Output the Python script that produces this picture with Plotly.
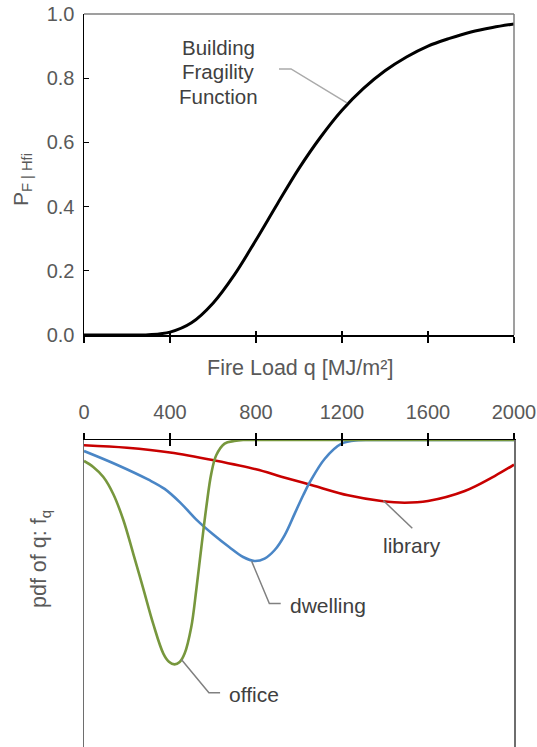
import plotly.graph_objects as go

# ---------------- data ----------------
# Fire load grid for the fragility function [MJ/m²]
q_frag = [0, 100, 200, 300, 400, 500, 600, 700, 800, 900, 1000,
          1100, 1200, 1300, 1400, 1500, 1600, 1700, 1800, 1900, 2000]
# Building fragility P_F|Hfi
p_frag = [0.0, 0.0, 0.0, 0.001, 0.009, 0.038, 0.099, 0.188, 0.296, 0.409, 0.519,
          0.616, 0.700, 0.768, 0.823, 0.866, 0.900, 0.924, 0.944, 0.958, 0.969]

# pdf of fire load (x 10^-3)
q_office = [0, 43, 90, 136, 183, 229, 276, 322, 369, 395, 421, 445, 468, 499, 522,
            546, 569, 592, 615, 654, 699, 740, 800, 1200, 1600, 2000]
f_office = [0.296, 0.381, 0.522, 0.761, 1.128, 1.602, 2.100, 2.594, 3.012, 3.127,
            3.165, 3.132, 3.012, 2.637, 2.119, 1.509, 0.945, 0.474, 0.216, 0.051,
            0.014, 0.0, 0.0, 0.0, 0.0, 0.0]

q_dwelling = [0, 150, 300, 375, 450, 525, 600, 675, 740, 793, 840, 886, 933,
              980, 1020, 1051, 1120, 1198, 1275, 1350, 1600, 2000]
f_dwelling = [0.155, 0.345, 0.560, 0.690, 0.890, 1.130, 1.330, 1.510, 1.650,
              1.706, 1.672, 1.555, 1.344, 1.038, 0.776, 0.592, 0.264, 0.052,
              0.004, 0.0, 0.0, 0.0]

q_library = [0, 200, 400, 608, 800, 918, 1073, 1228, 1383, 1491, 1600, 1771,
             1910, 2000]
f_library = [0.075, 0.110, 0.176, 0.289, 0.413, 0.517, 0.649, 0.780, 0.860,
             0.884, 0.860, 0.719, 0.508, 0.348]

x_ticks = [0, 400, 800, 1200, 1600, 2000]
y_ticks = [0.0, 0.2, 0.4, 0.6, 0.8, 1.0]

# --------------- styling ---------------
W, H = 537, 747
FONT = "Liberation Sans, Arial, sans-serif"
GRAY_TXT = "#595959"
LBL_TXT = "#404040"
C_OFFICE = "#77973d"
C_DWELL = "#4a86c6"
C_LIB = "#c80000"

xdom = [84 / W, 514 / W]
ydom_top = [1 - 335 / H, 1 - 14 / H]
ydom_bot = [0.0, 1 - 440 / H]
PDF_MAX = 4.33

fig = go.Figure()

fig.add_trace(go.Scatter(x=q_frag, y=p_frag, mode="lines",
                         line=dict(color="black", width=3, shape="spline", smoothing=1),
                         xaxis="x", yaxis="y", showlegend=False, hoverinfo="skip"))

for qv, fv, col in [(q_library, f_library, C_LIB), (q_dwelling, f_dwelling, C_DWELL),
                    (q_office, f_office, C_OFFICE)]:
    fig.add_trace(go.Scatter(x=qv, y=fv, mode="lines",
                             line=dict(color=col, width=2.6, shape="spline", smoothing=1),
                             xaxis="x2", yaxis="y2", showlegend=False, hoverinfo="skip"))

# empty traces to activate overlay tick axes
fig.add_trace(go.Scatter(x=[], y=[], xaxis="x3", yaxis="y", showlegend=False))
fig.add_trace(go.Scatter(x=[], y=[], xaxis="x4", yaxis="y2", showlegend=False))

tickfont = dict(family=FONT, size=20, color=GRAY_TXT)
common = dict(showgrid=False, zeroline=False, automargin=False)

fig.update_layout(
    template="none",
    width=W, height=H, margin=dict(l=0, r=0, t=0, b=0, pad=0, autoexpand=False),
    paper_bgcolor="white", plot_bgcolor="white",
    font=dict(family=FONT, color=GRAY_TXT),
    xaxis=dict(domain=xdom, anchor="y", range=[0, 2000], tickvals=x_ticks, showticklabels=False,
               ticks="outside", ticklen=6, tickwidth=1.3, tickcolor="black",
               showline=True, linecolor="black", linewidth=1.5, **common),
    yaxis=dict(domain=ydom_top, anchor="x", range=[0, 1], tickvals=y_ticks, tickformat=".1f",
               ticks="inside", ticklen=5, tickwidth=1.3, tickcolor="black", tickfont=tickfont,
               ticklabelstandoff=4,
               showline=True, linecolor="black", linewidth=1.5, **common),
    xaxis3=dict(domain=xdom, anchor="y", overlaying="x", range=[0, 2000], tickvals=x_ticks,
                showticklabels=False, ticks="inside", ticklen=4, tickwidth=1.3, tickcolor="black",
                showline=False, **common),
    xaxis2=dict(domain=xdom, anchor="y2", side="top", range=[0, 2000], tickvals=x_ticks,
                ticks="outside", ticklen=6, tickwidth=1.3, tickcolor="black", tickfont=tickfont,
                ticklabelstandoff=6,
                showline=True, linecolor="black", linewidth=1.5, **common),
    xaxis4=dict(domain=xdom, anchor="y2", overlaying="x2", side="top", range=[0, 2000],
                tickvals=x_ticks, showticklabels=False, ticks="inside", ticklen=6, tickwidth=1.3,
                tickcolor="black", showline=False, **common),
    yaxis2=dict(domain=ydom_bot, anchor="x2", range=[PDF_MAX, 0], showticklabels=False, ticks="",
                showline=True, mirror=True, linecolor="#6e6e6e", linewidth=1.5, **common),
    shapes=[
        dict(type="line", xref="x domain", yref="y domain", x0=0, x1=1, y0=1, y1=1,
             line=dict(color="#7f7f7f", width=1.5)),
        dict(type="line", xref="x domain", yref="y domain", x0=1, x1=1, y0=0, y1=1,
             line=dict(color="#7f7f7f", width=1.5)),
        # leader lines
        dict(type="path", xref="x", yref="y", path="M 907,0.829 L 963,0.829 L 1223,0.723",
             line=dict(color="#aaaaaa", width=1.5)),
        dict(type="path", xref="x2", yref="y2", path="M 453,3.096 L 581,3.566 L 633,3.566",
             line=dict(color="#808080", width=1.5)),
        dict(type="path", xref="x2", yref="y2", path="M 780,1.712 L 862,2.307 L 915,2.307",
             line=dict(color="#808080", width=1.5)),
        dict(type="path", xref="x2", yref="y2", path="M 1392,0.854 L 1527,1.244",
             line=dict(color="#808080", width=1.5)),
    ],
)

ann = []
# top-plot label (three lines)
for txt, ypx in [("Building", 47), ("Fragility", 72), ("Function", 96)]:
    ann.append(dict(text=txt, xref="paper", yref="paper", x=218 / W, y=1 - ypx / H,
                    showarrow=False, xanchor="center", yanchor="middle",
                    font=dict(family=FONT, size=20.5, color=LBL_TXT)))
# x title
ann.append(dict(text="Fire Load q [MJ/m²]", xref="paper", yref="paper", x=300 / W, y=1 - 368 / H,
                showarrow=False, xanchor="center", yanchor="middle",
                font=dict(family=FONT, size=21.5, color=GRAY_TXT)))
# y titles
ann.append(dict(text="P<sub>F | Hfi</sub>", xref="paper", yref="paper", x=22 / W, y=1 - 180 / H,
                showarrow=False, textangle=-90, xanchor="center", yanchor="middle",
                font=dict(family=FONT, size=21, color=GRAY_TXT)))
ann.append(dict(text="pdf of q: f<sub>q</sub>", xref="paper", yref="paper", x=40 / W, y=1 - 559 / H,
                showarrow=False, textangle=-90, xanchor="center", yanchor="middle",
                font=dict(family=FONT, size=21.5, color=GRAY_TXT)))
# curve labels
ann.append(dict(text="office", xref="x2", yref="y2", x=665, y=3.59, showarrow=False,
                xanchor="left", yanchor="middle", font=dict(family=FONT, size=21, color=LBL_TXT)))
ann.append(dict(text="dwelling", xref="x2", yref="y2", x=947, y=2.336, showarrow=False,
                xanchor="left", yanchor="middle", font=dict(family=FONT, size=21, color=LBL_TXT)))
ann.append(dict(text="library", xref="x2", yref="y2", x=1527, y=1.49, showarrow=False,
                xanchor="center", yanchor="middle", font=dict(family=FONT, size=21, color=LBL_TXT)))
fig.update_layout(annotations=ann)

fig.write_html("out.html", config={"displayModeBar": False, "staticPlot": True},
               post_script="document.body.style.margin='0';document.body.style.overflow='hidden';")
